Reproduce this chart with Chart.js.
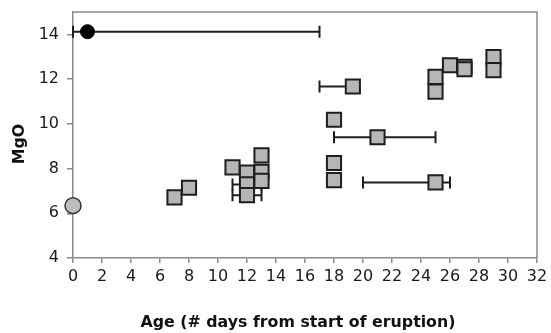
<!DOCTYPE html>
<html>
<head>
<meta charset="utf-8">
<script src="https://cdn.jsdelivr.net/npm/chart.js@4/dist/chart.umd.min.js"></script>
<style>
  html, body { margin: 0; padding: 0; background: #ffffff; }
  #wrap { width: 551px; height: 333px; }
</style>
</head>
<body>
<div id="wrap"><canvas id="c" width="551" height="333"></canvas></div>
<script>
// Sample ages (days since eruption onset) and MgO contents
const squareAge = [7, 8, 11, 12, 12, 12, 13, 13, 13, 18, 18, 18, 19.3, 21, 25, 25, 25, 26, 27, 27, 29, 29];
const squareMgO = [6.71, 7.14, 8.05, 7.82, 7.29, 6.81, 8.59, 7.85, 7.45, 8.25, 7.48, 10.18, 11.67, 9.4, 12.1, 11.44, 7.38, 12.62, 12.55, 12.44, 12.99, 12.4];

// Reference compositions plotted as circles
const blackAge = [1];
const blackMgO = [14.12];
const grayAge = [0];
const grayMgO = [6.34];

// Age uncertainty ranges (horizontal bars)
const rangeMgO = [14.12, 11.67, 9.4, 7.38, 7.29, 6.81];
const rangeFrom = [0, 17, 18, 20, 11, 11];
const rangeTo = [17, 19.3, 25, 26, 13, 13];

// Axis ticks and titles
const xTicks = [0, 2, 4, 6, 8, 10, 12, 14, 16, 18, 20, 22, 24, 26, 28, 30, 32];
const yTicks = [4, 6, 8, 10, 12, 14];
const xTitle = 'Age (# days from start of eruption)';
const yTitle = 'MgO';

const toPoints = (xs, ys) => xs.map((x, i) => ({ x: x, y: ys[i] }));

const FONT = "'DejaVu Sans', Verdana, sans-serif";
const AXIS_GRAY = '#8a8a8a';

// Horizontal age-range bars with end caps, drawn under the markers
const rangeBars = {
  id: 'rangeBars',
  beforeDatasetsDraw(chart) {
    const { ctx, scales: { x, y } } = chart;
    ctx.save();
    ctx.strokeStyle = '#1e1e1e';
    ctx.lineWidth = 2;
    const cap = 6;
    rangeMgO.forEach((v, i) => {
      const py = y.getPixelForValue(v);
      const x0 = x.getPixelForValue(rangeFrom[i]);
      const x1 = x.getPixelForValue(rangeTo[i]);
      ctx.beginPath();
      ctx.moveTo(x0, py); ctx.lineTo(x1, py);
      ctx.moveTo(x0, py - cap); ctx.lineTo(x0, py + cap);
      ctx.moveTo(x1, py - cap); ctx.lineTo(x1, py + cap);
      ctx.stroke();
    });
    ctx.restore();
  }
};

// Light frame along the top and right of the plot area, plus both axis titles
const frame = {
  id: 'frame',
  afterDraw(chart) {
    const { ctx, chartArea: a } = chart;
    ctx.save();
    ctx.strokeStyle = AXIS_GRAY;
    ctx.lineWidth = 1.5;
    ctx.beginPath();
    ctx.moveTo(a.left, a.top);
    ctx.lineTo(a.right, a.top);
    ctx.lineTo(a.right, a.bottom);
    ctx.stroke();

    ctx.fillStyle = '#111111';
    ctx.font = 'bold 15.8px ' + FONT;
    ctx.textAlign = 'center';
    ctx.textBaseline = 'middle';
    ctx.fillText(xTitle, (a.left + a.right) / 2 - 7, 323);

    ctx.translate(20, (a.top + a.bottom) / 2 + 9);
    ctx.rotate(-Math.PI / 2);
    ctx.fillText(yTitle, 0, 0);
    ctx.restore();
  }
};

const bg = {
  id: 'bg',
  beforeDraw(chart) {
    const { ctx, width, height } = chart;
    ctx.save();
    ctx.fillStyle = '#ffffff';
    ctx.fillRect(0, 0, width, height);
    ctx.restore();
  }
};

new Chart(document.getElementById('c'), {
  type: 'scatter',
  data: {
    datasets: [
      {
        label: 'samples',
        data: toPoints(squareAge, squareMgO),
        pointStyle: 'rect',
        pointRadius: 10,
        backgroundColor: '#b6b6b6',
        borderColor: '#1e1e1e',
        borderWidth: 2,
        clip: false
      },
      {
        label: 'black',
        data: toPoints(blackAge, blackMgO),
        pointStyle: 'circle',
        pointRadius: 7,
        backgroundColor: '#000000',
        borderColor: '#000000',
        borderWidth: 1,
        clip: false
      },
      {
        label: 'gray',
        data: toPoints(grayAge, grayMgO),
        pointStyle: 'circle',
        pointRadius: 8,
        backgroundColor: '#bdbdbd',
        borderColor: '#333333',
        borderWidth: 1.5,
        clip: false
      }
    ]
  },
  options: {
    responsive: false,
    animation: false,
    devicePixelRatio: 1,
    layout: { padding: { top: 11, right: 14, left: 0, bottom: 0 } },
    plugins: { legend: { display: false }, tooltip: { enabled: false } },
    scales: {
      x: {
        type: 'linear',
        min: 0,
        max: 32,
        afterBuildTicks(scale) { scale.ticks = xTicks.map(v => ({ value: v })); },
        afterFit(scale) {
          scale.height = 75;
          scale.paddingLeft = 0;
          scale.paddingRight = 0;
        },
        ticks: {
          font: { family: FONT, size: 16 },
          color: '#1a1a1a',
          padding: 4,
          maxRotation: 0,
          autoSkip: false
        },
        grid: { drawOnChartArea: false, drawTicks: true, tickLength: 5, color: AXIS_GRAY, lineWidth: 1.5 },
        border: { display: true, color: AXIS_GRAY, width: 1.5 },
        title: { display: false }
      },
      y: {
        type: 'linear',
        min: 4,
        max: 15,
        afterBuildTicks(scale) { scale.ticks = yTicks.map(v => ({ value: v })); },
        afterFit(scale) {
          scale.width = 73;
          scale.paddingTop = 0;
          scale.paddingBottom = 0;
        },
        ticks: {
          font: { family: FONT, size: 16 },
          color: '#1a1a1a',
          padding: 8
        },
        grid: { drawOnChartArea: false, drawTicks: true, tickLength: 6, color: AXIS_GRAY, lineWidth: 1.5 },
        border: { display: true, color: AXIS_GRAY, width: 1.5 },
        title: { display: false }
      }
    }
  },
  plugins: [bg, rangeBars, frame]
});
</script>
</body>
</html>
